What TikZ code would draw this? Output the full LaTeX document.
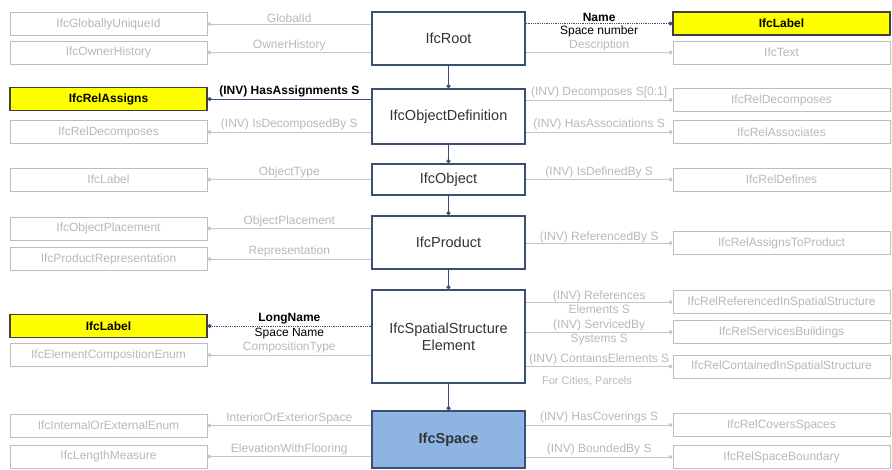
\documentclass[tikz,border=0pt]{standalone}
\usepackage{fontspec}
\setmainfont{Liberation Sans}
\usepackage{tikz}
\usetikzlibrary{arrows.meta}
\usetikzlibrary{positioning}
\usetikzlibrary{calc}

\definecolor{coreblue}{HTML}{3A4F73}
\definecolor{boxgrey}{HTML}{BDBDBD}
\definecolor{textgrey}{HTML}{B8B8B8}
\definecolor{linegrey}{HTML}{C6C6C6}
\definecolor{spaceblue}{HTML}{8EB4E3}
\definecolor{markyellow}{HTML}{FFFF00}

\begin{document}
\begin{tikzpicture}[x=1pt, y=-1pt,
				internal/.style={draw=coreblue, line width=1.6pt, fill=white, rectangle, minimum width=153pt, inner sep=2pt, text=black!80, font=\fontsize{14.5}{17}\selectfont},
				side/.style={draw=boxgrey, line width=0.9pt, fill=white, rectangle, minimum height=23pt, inner sep=0pt, text=textgrey, font=\fontsize{12}{14}\selectfont},
				leftbox/.style={side, minimum width=197pt},
				rightbox/.style={side, minimum width=217pt},
				marked/.style={fill=markyellow, draw=black!75, line width=1.2pt, text=black, font=\fontsize{12}{14}\selectfont\bfseries},
				link/.style={draw=linegrey, line width=0.6pt, -{Circle[length=4pt]}},
				keylink/.style={draw=coreblue, line width=0.8pt, -{Circle[length=4pt]}},
				inherit/.style={draw=coreblue, line width=1.4pt, -{Circle[length=4pt]}},
				lab/.style={text=textgrey, font=\fontsize{12}{14}\selectfont, inner sep=1.5pt},
				keylab/.style={lab, text=black, font=\fontsize{12}{14}\selectfont\bfseries},
				sublab/.style={lab, text=black},
				every text node part/.style={align=center}]
				\useasboundingbox (0,0) rectangle (892,469);
				
				\node[internal, minimum height=53pt](node1) at (448.5, 38.5) {IfcRoot};
				\node[internal, minimum height=55pt](node2) at (448.5, 116.5) {IfcObjectDefinition};
				\node[internal, minimum height=31pt](node3) at (448.5, 179.5) {IfcObject};
				\node[internal, minimum height=53pt](node4) at (448.5, 242.5) {IfcProduct};
				\node[internal, minimum height=93pt](node5) at (448.5, 336.5) {IfcSpatialStructure\\Element};
				\node[internal, minimum height=57pt, fill=spaceblue, font=\fontsize{14.5}{17}\selectfont\bfseries](node6) at (448.5, 439.5) {IfcSpace};
				
				\node[leftbox](node11) at (108.5, 24) {IfcGloballyUniqueId};
				\node[leftbox](node12) at (108.5, 52.5) {IfcOwnerHistory};
				\node[leftbox, marked](node21) at (108.5, 99) {IfcRelAssigns};
				\node[leftbox](node22) at (108.5, 132) {IfcRelDecomposes};
				\node[leftbox](node31) at (108.5, 179.5) {IfcLabel};
				\node[leftbox](node41) at (108.5, 228.5) {IfcObjectPlacement};
				\node[leftbox](node42) at (108.5, 259) {IfcProductRepresentation};
				\node[leftbox, marked](node51) at (108.5, 326) {IfcLabel};
				\node[leftbox](node52) at (108.5, 355) {IfcElementCompositionEnum};
				\node[leftbox](node61) at (108.5, 425.5) {IfcInternalOrExternalEnum};
				\node[leftbox](node62) at (108.5, 456.5) {IfcLengthMeasure};
				
				\node[rightbox, marked](node13) at (781.5, 23.5) {IfcLabel};
				\node[rightbox](node14) at (781.5, 52.5) {IfcText};
				\node[rightbox](node23) at (781.5, 100) {IfcRelDecomposes};
				\node[rightbox](node24) at (781.5, 132) {IfcRelAssociates};
				\node[rightbox](node33) at (781.5, 179.5) {IfcRelDefines};
				\node[rightbox](node43) at (781.5, 243) {IfcRelAssignsToProduct};
				\node[rightbox](node53) at (781.5, 302) {IfcRelReferencedInSpatialStructure};
				\node[rightbox](node54) at (781.5, 332) {IfcRelServicesBuildings};
				\node[rightbox](node55) at (781.5, 366.5) {IfcRelContainedInSpatialStructure};
				\node[rightbox](node63) at (781.5, 425) {IfcRelCoversSpaces};
				\node[rightbox](node64) at (781.5, 457) {IfcRelSpaceBoundary};
				
				\node[lab, font=\fontsize{11}{13}\selectfont](note5) at (587, 381) {For Cities, Parcels};
				
				\draw [inherit] (node1) -- (node2);
				\draw [inherit] (node2) -- (node3);
				\draw [inherit] (node3) -- (node4);
				\draw [inherit] (node4) -- (node5);
				\draw [inherit] (node5) -- (node6);
				
				\draw [link] (node1.west |- node11) -- node[lab, above] {GlobalId} (node11.east);
				\draw [link] (node1.west |- node12) -- node[lab, above] {OwnerHistory} (node12.east);
				\draw [keylink] (node2.west |- node21) -- node[keylab, above] {(INV) HasAssignments S} (node21.east);
				\draw [link] (node2.west |- node22) -- node[lab, above] {(INV) IsDecomposedBy S} (node22.east);
				\draw [link] (node3.west |- node31) -- node[lab, above] {ObjectType} (node31.east);
				\draw [link] (node4.west |- node41) -- node[lab, above] {ObjectPlacement} (node41.east);
				\draw [link] (node4.west |- node42) -- node[lab, above] {Representation} (node42.east);
				\draw [keylink, densely dotted] (node5.west |- node51) -- node[keylab, above] {LongName} node[sublab, below] {Space Name} (node51.east);
				\draw [link] (node5.west |- node52) -- node[lab, above] {CompositionType} (node52.east);
				\draw [link] (node6.west |- node61) -- node[lab, above] {InteriorOrExteriorSpace} (node61.east);
				\draw [link] (node6.west |- node62) -- node[lab, above] {ElevationWithFlooring} (node62.east);
				
				\draw [keylink, densely dotted] (node1.east |- node13) -- node[keylab, above] {Name} node[sublab, below] {Space number} (node13.west);
				\draw [link] (node1.east |- node14) -- node[lab, above] {Description} (node14.west);
				\draw [link] (node2.east |- node23) -- node[lab, above] {(INV) Decomposes S[0:1]} (node23.west);
				\draw [link] (node2.east |- node24) -- node[lab, above] {(INV) HasAssociations S} (node24.west);
				\draw [link] (node3.east |- node33) -- node[lab, above] {(INV) IsDefinedBy S} (node33.west);
				\draw [link] (node4.east |- node43) -- node[lab, above, inner sep=0pt] {(INV) ReferencedBy S} (node43.west);
				\draw [link] (node5.east |- node53) -- node[lab] {(INV) References\\Elements S} (node53.west);
				\draw [link] (node5.east |- node54) -- node[lab] {(INV) ServicedBy\\Systems S} (node54.west);
				\draw [link] (node5.east |- node55) -- node[lab, above] {(INV) ContainsElements S} (node55.west);
				\draw [link] (node6.east |- node63) -- node[lab, above] {(INV) HasCoverings S} (node63.west);
				\draw [link] (node6.east |- node64) -- node[lab, above] {(INV) BoundedBy S} (node64.west);
				
			\end{tikzpicture}
\end{document}
